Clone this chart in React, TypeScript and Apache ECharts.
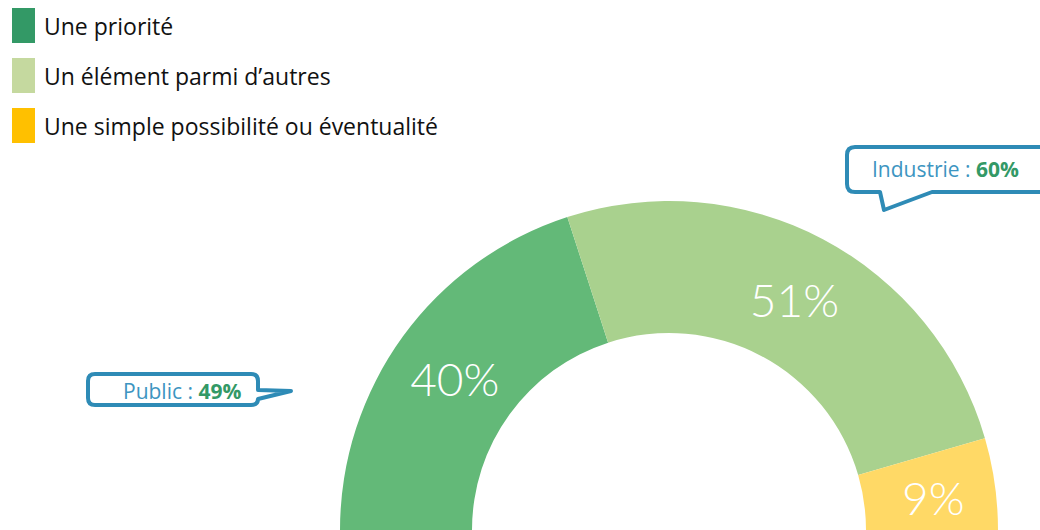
import React, { useEffect, useRef } from "react";
import * as echarts from "echarts";

const categories = ["Une priorité", "Un élément parmi d’autres", "Une simple possibilité ou éventualité"];
const values = [40, 51, 9];
const sliceColors = ["#63B978", "#A9D18E", "#FFD966"];
const legendColors = ["#339966", "#C5D99F", "#FFC000"];
const calloutLabels = ["Industrie : ", "Public : "];
const calloutValues = ["60%", "49%"];

const industriePath =
  "M855,147 L1070,147 L1070,192 L932,192 L884,210 L880,192 L855,192 Q847,192 847,184 L847,155 Q847,147 855,147 Z";
const publicPath =
  "M95,374 L251,374 Q258,374 258,381 L258,390 L291,391 L258,399 Q258,405 251,405 L95,405 Q88,405 88,398 L88,381 Q88,374 95,374 Z";

echarts.graphic.registerShape("bubbleInd", echarts.graphic.extendPath(industriePath, {}) as any);
echarts.graphic.registerShape("bubblePub", echarts.graphic.extendPath(publicPath, {}) as any);

export default function App() {
  const ref = useRef<HTMLDivElement>(null);
  useEffect(() => {
    if (!ref.current) return;
    const chart = echarts.init(ref.current, undefined, { renderer: "svg" });
    const total = values.reduce((a, b) => a + b, 0);
    const data: any[] = categories.map((name, i) => ({
      name,
      value: values[i],
      itemStyle: { color: sliceColors[i] },
    }));
    data.push({
      name: "_hidden",
      value: total,
      itemStyle: { color: "rgba(0,0,0,0)" },
      label: { show: false },
    });
    const bubbleStyle = { fill: "#ffffff", stroke: "#2E8BB6", lineWidth: 4, lineJoin: "round" };
    const rich = {
      a: { fontFamily: "Open Sans", fontSize: 21, fill: "#3D95C1", color: "#3D95C1" },
      b: { fontFamily: "Open Sans", fontSize: 21, fontWeight: "bold", fill: "#339966", color: "#339966" },
    };
    chart.setOption({
      animation: false,
      legend: {
        orient: "vertical",
        left: 12,
        top: 8,
        padding: 0,
        itemWidth: 23,
        itemHeight: 35,
        itemGap: 15,
        icon: "rect",
        selectedMode: false,
        data: categories.map((name, i) => ({ name, itemStyle: { color: legendColors[i] } })),
        textStyle: { fontFamily: "Open Sans", fontSize: 23, color: "#111111", padding: [0, 0, 0, 4] },
      },
      series: [
        {
          type: "pie",
          center: [669, 530],
          radius: [197, 329],
          startAngle: 180,
          clockwise: true,
          silent: true,
          avoidLabelOverlap: false,
          label: {
            show: true,
            position: "inside",
            formatter: "{c}%",
            color: "#ffffff",
            fontFamily: "Lato",
            fontWeight: 300,
            fontSize: 46,
            offset: [1, 5],
          },
          labelLine: { show: false },
          data,
        },
      ],
      graphic: [
        { type: "bubbleInd", x: 0, y: 0, style: bubbleStyle },
        {
          type: "text",
          x: 872,
          y: 169,
          style: {
            text: `{a|${calloutLabels[0]}}{b|${calloutValues[0]}}`,
            rich,
            verticalAlign: "middle",
          },
        },
        { type: "bubblePub", x: 0, y: 0, style: bubbleStyle },
        {
          type: "text",
          x: 123,
          y: 391,
          style: {
            text: `{a|${calloutLabels[1]}}{b|${calloutValues[1]}}`,
            rich,
            verticalAlign: "middle",
          },
        },
      ],
    });
    return () => chart.dispose();
  }, []);
  return (
    <div
      ref={ref}
      style={{ position: "fixed", left: 0, top: 0, width: 1040, height: 530, background: "#ffffff" }}
    />
  );
}
